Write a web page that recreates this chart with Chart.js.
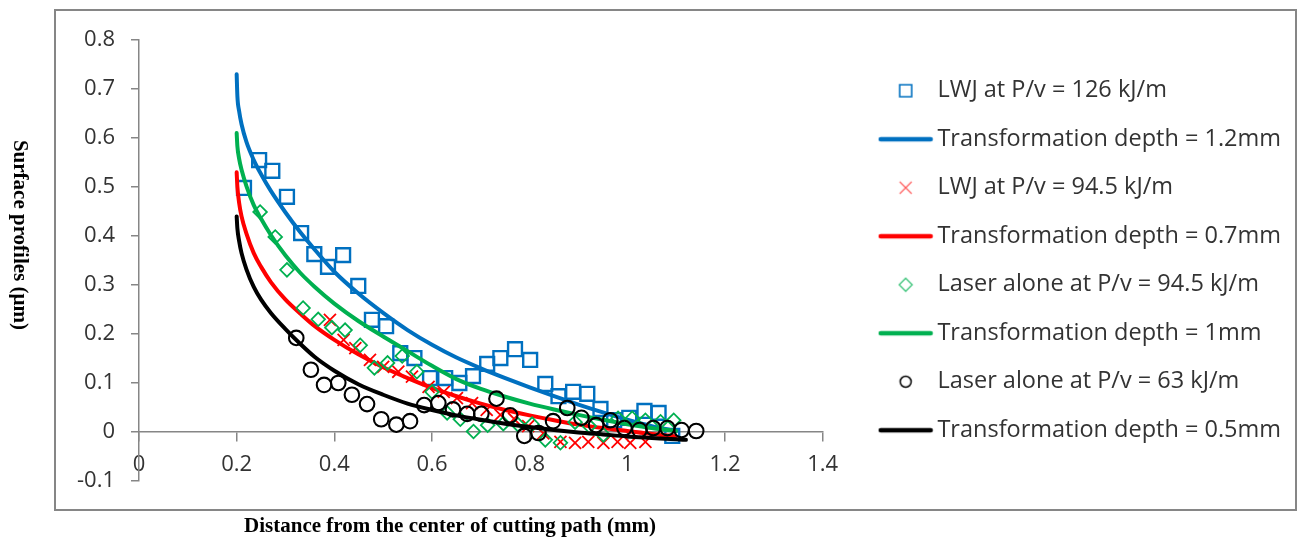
<!DOCTYPE html>
<html>
<head>
<meta charset="utf-8">
<title>Surface profiles</title>
<script src="https://cdn.jsdelivr.net/npm/chart.js@4.4.1/dist/chart.umd.min.js"></script>
<style>
  html, body { margin: 0; padding: 0; background: #fff; }
  #wrap { width: 1300px; height: 539px; }
</style>
</head>
<body>
<div id="wrap"><canvas id="profileChart" width="1300" height="539"></canvas></div>
<script>
// ---- data ----
const seriesLabels = [
  'LWJ at P/v = 126 kJ/m',
  'Transformation depth = 1.2mm',
  'LWJ at P/v = 94.5 kJ/m',
  'Transformation depth = 0.7mm',
  'Laser alone at P/v = 94.5 kJ/m',
  'Transformation depth = 1mm',
  'Laser alone at P/v = 63 kJ/m',
  'Transformation depth = 0.5mm'
];

// measured points
const lwj126X = [0.215, 0.246, 0.273, 0.303, 0.332, 0.359, 0.387, 0.418, 0.449, 0.477, 0.506, 0.535, 0.564, 0.596, 0.627, 0.656, 0.684, 0.713, 0.740, 0.770, 0.801, 0.832, 0.859, 0.889, 0.918, 0.945, 0.973, 1.004, 1.035, 1.064, 1.092];
const lwj126Y = [0.498, 0.555, 0.533, 0.480, 0.406, 0.363, 0.337, 0.361, 0.298, 0.229, 0.216, 0.161, 0.151, 0.110, 0.110, 0.100, 0.114, 0.139, 0.151, 0.169, 0.147, 0.098, 0.073, 0.082, 0.078, 0.047, 0.024, 0.029, 0.043, 0.039, -0.008];

const lwj945X = [0.391, 0.419, 0.443, 0.473, 0.500, 0.531, 0.559, 0.593, 0.624, 0.651, 0.682, 0.712, 0.740, 0.768, 0.797, 0.828, 0.863, 0.893, 0.920, 0.951, 0.980, 1.006, 1.037];
const lwj945Y = [0.229, 0.188, 0.171, 0.147, 0.133, 0.123, 0.113, 0.092, 0.082, 0.069, 0.059, 0.045, 0.035, 0.027, 0.012, -0.003, -0.020, -0.022, -0.020, -0.022, -0.020, -0.022, -0.020];

const laser945X = [0.248, 0.279, 0.303, 0.336, 0.367, 0.395, 0.422, 0.453, 0.482, 0.509, 0.539, 0.569, 0.600, 0.631, 0.658, 0.685, 0.714, 0.746, 0.776, 0.805, 0.832, 0.863, 0.893, 0.922, 0.951, 0.981, 1.010, 1.037, 1.068, 1.095];
const laser945Y = [0.449, 0.398, 0.331, 0.253, 0.230, 0.213, 0.208, 0.177, 0.131, 0.141, 0.155, 0.123, 0.082, 0.039, 0.026, 0.001, 0.014, 0.017, 0.015, 0.016, -0.016, -0.022, 0.020, 0.012, -0.006, 0.028, 0.028, 0.024, 0.021, 0.024];

const laser63X = [0.322, 0.352, 0.379, 0.408, 0.436, 0.467, 0.496, 0.527, 0.555, 0.584, 0.613, 0.643, 0.672, 0.701, 0.732, 0.760, 0.789, 0.818, 0.848, 0.877, 0.906, 0.936, 0.965, 0.994, 1.025, 1.053, 1.082, 1.111, 1.141];
const laser63Y = [0.192, 0.127, 0.096, 0.100, 0.076, 0.057, 0.026, 0.015, 0.022, 0.055, 0.059, 0.046, 0.037, 0.037, 0.068, 0.034, -0.008, -0.002, 0.022, 0.049, 0.029, 0.014, 0.024, 0.008, 0.004, 0.008, 0.008, 0.004, 0.002];

// fitted curves
const curveX = [0.200, 0.2015, 0.205, 0.210, 0.220, 0.235, 0.250, 0.270, 0.300, 0.330, 0.360, 0.400, 0.450, 0.500, 0.550, 0.600, 0.650, 0.700, 0.750, 0.800, 0.850, 0.900, 0.950, 1.000, 1.050, 1.100];
const depth12Y = [0.730, 0.685, 0.655, 0.628, 0.592, 0.555, 0.526, 0.492, 0.448, 0.408, 0.372, 0.327, 0.282, 0.243, 0.208, 0.178, 0.152, 0.130, 0.110, 0.091, 0.073, 0.056, 0.040, 0.025, 0.012, 0.002];
const depth07Y = [0.530, 0.500, 0.468, 0.440, 0.405, 0.365, 0.337, 0.306, 0.270, 0.242, 0.216, 0.188, 0.158, 0.132, 0.110, 0.090, 0.073, 0.058, 0.045, 0.034, 0.024, 0.015, 0.008, 0.002, -0.004, -0.009];
const depth10Y = [0.610, 0.583, 0.558, 0.535, 0.502, 0.463, 0.435, 0.402, 0.360, 0.325, 0.296, 0.262, 0.226, 0.195, 0.165, 0.135, 0.108, 0.088, 0.072, 0.058, 0.046, 0.035, 0.025, 0.016, 0.008, 0.002];
const depth05X = curveX.concat([1.120]);
const depth05Y = [0.440, 0.415, 0.390, 0.365, 0.332, 0.296, 0.270, 0.243, 0.210, 0.180, 0.153, 0.125, 0.097, 0.076, 0.058, 0.045, 0.034, 0.025, 0.017, 0.010, 0.004, -0.001, -0.005, -0.009, -0.012, -0.015, -0.016];

const xTitle = 'Distance from the center of cutting path (mm)';
const yTitle = 'Surface profiles (\u00b5m)';

// ---- styling ----
const BLUE = '#0070C0';
const RED = '#FF0000';
const GREEN = '#00B050';
const BLACK = '#000000';
const AXIS_GREY = '#868686';
const TEXT = '#333333';
const SANS = '"Open Sans", "Liberation Sans", sans-serif';
const SERIF = '"Liberation Serif", "Times New Roman", serif';

// layout in px: plot right edge, gap before legend, legend label geometry
const PLOT_RIGHT = 822;
const LEGEND_GAP = 38;
const LEGEND_FONT = 23.5;
const LEGEND_PAD = 25;
const LEGEND_BOX = 40;

function points(xs, ys) {
  return xs.map((x, i) => ({ x: x, y: ys[i] }));
}

function markerSet(label, xs, ys, color, style, radius, width) {
  return {
    label: label,
    data: points(xs, ys),
    showLine: false,
    pointStyle: style,
    pointRadius: radius,
    pointBorderWidth: width,
    borderColor: color,
    backgroundColor: 'rgba(0,0,0,0)'
  };
}

function curveSet(label, xs, ys, color) {
  return {
    label: label,
    data: points(xs, ys),
    showLine: true,
    pointRadius: 0,
    borderWidth: 4,
    borderColor: color,
    backgroundColor: color,
    borderCapStyle: 'round',
    cubicInterpolationMode: 'monotone'
  };
}

// small canvases used as legend symbols (Excel draws them smaller than the markers)
function swatch(kind, color) {
  const c = document.createElement('canvas');
  const ctx = c.getContext('2d');
  if (kind === 'line') {
    c.width = 56; c.height = 8;
    ctx.strokeStyle = color; ctx.lineWidth = 4.5; ctx.lineCap = 'round';
    ctx.beginPath(); ctx.moveTo(3, 4); ctx.lineTo(53, 4); ctx.stroke();
    return c;
  }
  c.width = 16; c.height = 16;
  ctx.strokeStyle = color;
  ctx.beginPath();
  if (kind === 'square') {
    ctx.lineWidth = 1.6;
    ctx.rect(2, 2, 12, 12);
  } else if (kind === 'cross') {
    ctx.lineWidth = 1.2;
    ctx.moveTo(2, 2); ctx.lineTo(14, 14);
    ctx.moveTo(14, 2); ctx.lineTo(2, 14);
  } else if (kind === 'diamond') {
    ctx.lineWidth = 1.3;
    ctx.moveTo(8, 1.5); ctx.lineTo(14.5, 8); ctx.lineTo(8, 14.5); ctx.lineTo(1.5, 8); ctx.closePath();
  } else {
    ctx.lineWidth = 1.5;
    ctx.arc(8, 8, 5.5, 0, Math.PI * 2);
  }
  ctx.stroke();
  return c;
}

const legendSwatches = [
  swatch('square', BLUE),
  swatch('line', BLUE),
  swatch('cross', '#ff5a5a'),
  swatch('line', RED),
  swatch('diamond', '#3cc47a'),
  swatch('line', GREEN),
  swatch('circle', BLACK),
  swatch('line', BLACK)
];

// legend box width as Chart.js will compute it, so the plot keeps its right edge
function legendWidth() {
  const ctx = document.createElement('canvas').getContext('2d');
  ctx.font = LEGEND_FONT + 'px ' + SANS;
  const widest = Math.max(...seriesLabels.map(t => ctx.measureText(t).width));
  return Math.ceil(LEGEND_PAD + LEGEND_BOX + LEGEND_FONT / 2 + widest + 10);
}
const LEGEND_W = legendWidth();

const datasets = [
  markerSet(seriesLabels[0], lwj126X, lwj126Y, BLUE, 'rect', 9.8, 2.4),
  curveSet(seriesLabels[1], curveX, depth12Y, BLUE),
  markerSet(seriesLabels[2], lwj945X, lwj945Y, RED, 'crossRot', 8.5, 1.8),
  curveSet(seriesLabels[3], curveX, depth07Y, RED),
  markerSet(seriesLabels[4], laser945X, laser945Y, GREEN, 'rectRot', 6.8, 1.8),
  curveSet(seriesLabels[5], curveX, depth10Y, GREEN),
  markerSet(seriesLabels[6], laser63X, laser63Y, BLACK, 'circle', 7.3, 2.1),
  curveSet(seriesLabels[7], depth05X, depth05Y, BLACK)
];
// later series on top, like Excel
datasets.forEach((ds, i) => { ds.order = -i; });

function fmtTick(v) {
  return String(Math.round(v * 10) / 10);
}

// frame around the plot and the two hand-placed axis titles
const frameAndTitles = {
  id: 'frameAndTitles',
  beforeDraw(chart) {
    const ctx = chart.ctx;
    ctx.save();
    ctx.fillStyle = '#ffffff';
    ctx.fillRect(0, 0, chart.width, chart.height);
    ctx.strokeStyle = AXIS_GREY;
    ctx.lineWidth = 2;
    ctx.strokeRect(55, 10, 1241, 500);
    ctx.restore();
  },
  afterDraw(chart) {
    const ctx = chart.ctx;
    ctx.save();
    ctx.fillStyle = '#000';
    ctx.font = 'bold 21px ' + SERIF;
    ctx.textAlign = 'center';
    ctx.textBaseline = 'middle';
    ctx.fillText(xTitle, 450, 527);
    ctx.translate(19, 235);
    ctx.rotate(Math.PI / 2);
    ctx.fillText(yTitle, 0, 0);
    ctx.restore();
  }
};

Chart.defaults.font.family = SANS;

const padRight = Math.max(0, 1300 - PLOT_RIGHT - LEGEND_GAP - LEGEND_W);

new Chart(document.getElementById('profileChart'), {
  type: 'scatter',
  data: { datasets: datasets },
  plugins: [frameAndTitles],
  options: {
    responsive: false,
    animation: false,
    events: [],
    layout: { padding: { left: 0, top: 40, right: padRight, bottom: 58 } },
    scales: {
      x: {
        type: 'linear',
        position: { y: 0 },
        min: 0,
        max: 1.4,
        ticks: { stepSize: 0.2, padding: 11, color: TEXT, font: { size: 22 }, callback: fmtTick, maxRotation: 0 },
        grid: { drawOnChartArea: false, drawTicks: true, tickLength: 9, color: AXIS_GREY, lineWidth: 1.5 },
        border: { color: AXIS_GREY, width: 1.5 }
      },
      y: {
        type: 'linear',
        position: 'left',
        min: -0.1,
        max: 0.8,
        ticks: { stepSize: 0.1, padding: 16, color: TEXT, font: { size: 22 }, callback: fmtTick },
        grid: { drawOnChartArea: false, drawTicks: true, tickLength: 8, color: AXIS_GREY, lineWidth: 1.5 },
        border: { color: AXIS_GREY, width: 1.5 },
        afterFit(scale) { scale.width = 139; }
      },
      // empty spacer between plot and legend
      gap: {
        type: 'linear',
        position: 'right',
        grid: { display: false },
        border: { display: false },
        ticks: { display: false },
        afterFit(scale) { scale.width = LEGEND_GAP; }
      }
    },
    plugins: {
      tooltip: { enabled: false },
      legend: {
        position: 'right',
        align: 'center',
        maxWidth: LEGEND_W,
        labels: {
          usePointStyle: true,
          pointStyleWidth: LEGEND_BOX,
          padding: LEGEND_PAD,
          color: TEXT,
          font: { size: LEGEND_FONT },
          generateLabels(chart) {
            const items = Chart.defaults.plugins.legend.labels.generateLabels(chart);
            items.forEach(item => { item.pointStyle = legendSwatches[item.datasetIndex]; });
            return items.sort((a, b) => a.datasetIndex - b.datasetIndex);
          }
        }
      }
    }
  }
});
</script>
</body>
</html>
